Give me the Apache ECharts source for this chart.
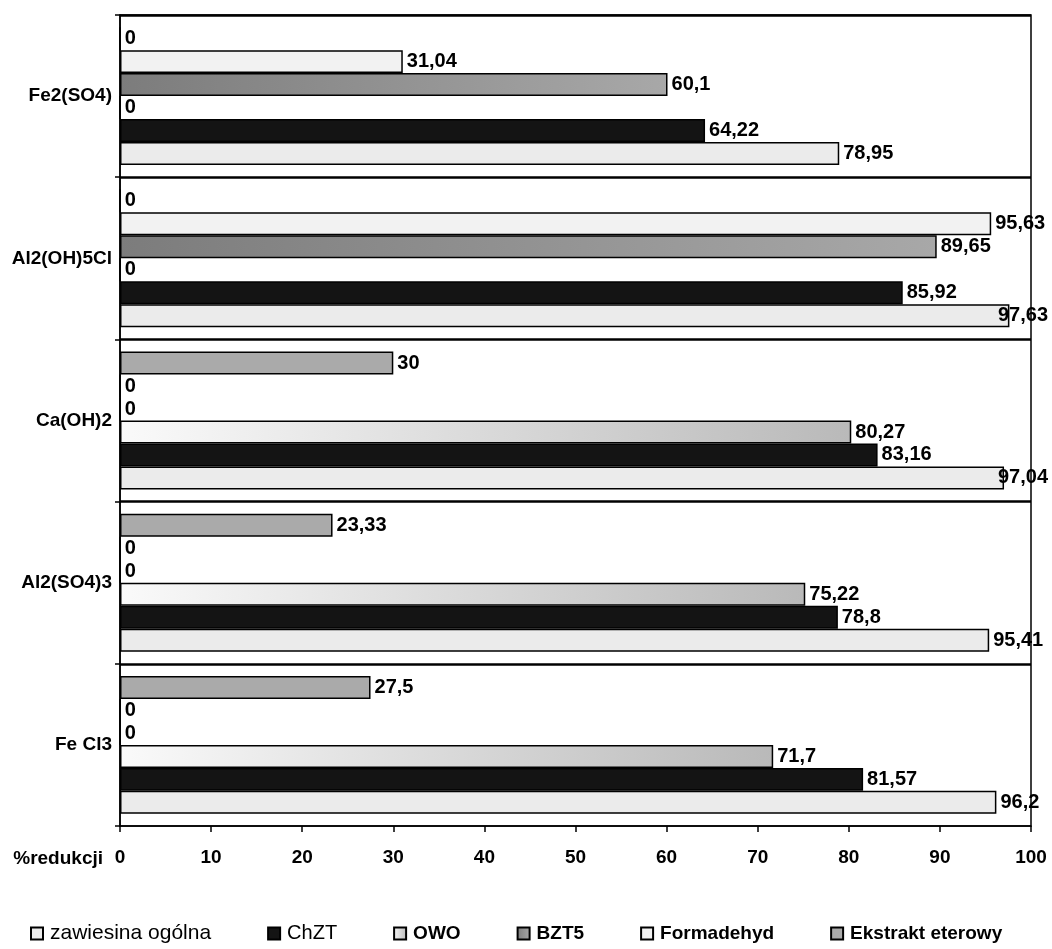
<!DOCTYPE html>
<html>
<head>
<meta charset="utf-8">
<script src="https://cdn.jsdelivr.net/npm/echarts@6/dist/echarts.min.js"></script>
<style>
html,body{margin:0;padding:0;background:#fff;}
#chart{width:1052px;height:949px;}
</style>
</head>
<body>
<div id="chart"></div>
<script>
const categories = ['Fe Cl3', 'Al2(SO4)3', 'Ca(OH)2', 'Al2(OH)5Cl', 'Fe2(SO4)'];
const seriesNames = ['zawiesina ogólna', 'ChZT', 'OWO', 'BZT5', 'Formadehyd', 'Ekstrakt eterowy'];
const zawiesina = [96.2, 95.41, 97.04, 97.63, 78.95];
const chzt = [81.57, 78.8, 83.16, 85.92, 64.22];
const owo = [71.7, 75.22, 80.27, 0, 0];
const bzt5 = [0, 0, 0, 89.65, 60.1];
const formadehyd = [0, 0, 0, 95.63, 31.04];
const ekstrakt = [27.5, 23.33, 30, 0, 0];
const axisName = '%redukcji';

const FONT = '"Liberation Sans", Arial, sans-serif';
const colors = [
  '#ebebeb',
  '#141414',
  {type:'linear', x:0, y:0, x2:1, y2:0, colorStops:[{offset:0,color:'#fafafa'},{offset:1,color:'#b9b9b9'}]},
  {type:'linear', x:0, y:0, x2:1, y2:0, colorStops:[{offset:0,color:'#7c7c7c'},{offset:1,color:'#a8a8a8'}]},
  '#f2f2f2',
  '#aaaaaa'
];
const allData = [zawiesina, chzt, owo, bzt5, formadehyd, ekstrakt];

const chart = echarts.init(document.getElementById('chart'), null, {renderer:'canvas'});
const RIGHT_LIMIT = 1048;
const series = seriesNames.map((name, i) => ({
  name: name,
  type: 'bar',
  data: allData[i],
  barGap: '0%',
  barCategoryGap: '15%',
  itemStyle: {color: colors[i], borderColor: '#000', borderWidth: 1.5},
  label: {
    show: true,
    position: 'right',
    distance: 4,
    color: '#000',
    fontFamily: FONT,
    fontSize: 20,
    fontWeight: 'bold',
    formatter: p => String(p.value).replace('.', ',')
  },
  labelLayout: params => {
    const r = params.labelRect;
    const over = r.x + r.width - RIGHT_LIMIT;
    return over > 0 ? {dx: -over} : {};
  },
  emphasis: {disabled: true},
  animation: false
})).reverse();

const legendData = seriesNames.map((n, i) => ({
  name: n,
  textStyle: {fontWeight: i < 2 ? 'normal' : 'bold', fontSize: i === 0 ? 21 : (i === 1 ? 20 : 19)}
}));

chart.setOption({
  backgroundColor: '#fff',
  animation: false,
  grid: {left: 120, right: 21, top: 15, bottom: 123, show: true, borderColor: '#000', borderWidth: 1.5, containLabel: false},
  legend: {
    data: legendData,
    left: 25,
    top: 918,
    icon: 'rect',
    itemWidth: 12,
    itemHeight: 12,
    itemGap: 56,
    textStyle: {fontFamily: FONT, color: '#000', fontSize: 20, padding: [0,0,0,2]},
    selectedMode: false
  },
  xAxis: {
    type: 'value',
    min: 0,
    max: 100,
    interval: 10,
    name: axisName,
    nameLocation: 'start',
    nameGap: 17,
    nameTextStyle: {fontFamily: FONT, fontSize: 19, fontWeight: 'bold', color: '#000', verticalAlign: 'top', padding: [23, 0, 0, 0]},
    axisLine: {show: true, lineStyle: {color: '#000', width: 1.5}},
    axisTick: {show: true, length: 6, lineStyle: {color: '#000', width: 1.5}},
    axisLabel: {fontFamily: FONT, fontSize: 19, fontWeight: 'bold', color: '#000', margin: 22},
    splitLine: {show: false}
  },
  yAxis: {
    type: 'category',
    data: categories,
    axisLine: {show: true, lineStyle: {color: '#000', width: 1.5}},
    axisTick: {show: true, length: 5, lineStyle: {color: '#000', width: 1.5}},
    axisLabel: {fontFamily: FONT, fontSize: 19, fontWeight: 'bold', color: '#000', margin: 8},
    splitLine: {show: true, showMinLine: false, lineStyle: {color: '#000', width: 2.5}}
  },
  series: series
});
</script>
</body>
</html>
